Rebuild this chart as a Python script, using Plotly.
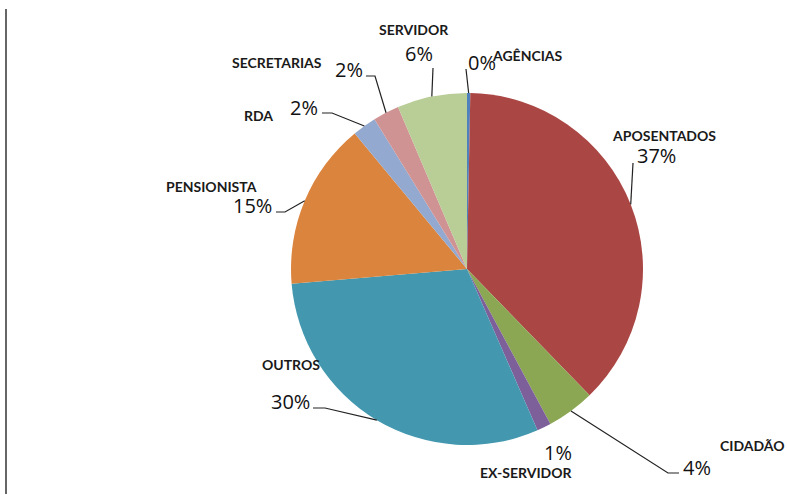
import math
import plotly.graph_objects as go

# ---- data ----
categories = ["AGÊNCIAS", "APOSENTADOS", "CIDADÃO", "EX-SERVIDOR", "OUTROS",
              "PENSIONISTA", "RDA", "SECRETARIAS", "SERVIDOR"]
values = [0.3, 37.4, 4.4, 1.3, 30.2, 15.3, 2.2, 2.4, 6.4]
colors = ["#4F81BD", "#AA4644", "#8BA753", "#7D5F9A", "#4398AF",
          "#DB843D", "#93A9CF", "#D09393", "#B9CD96"]

W, H = 787, 495
CX, CY, R = 467, 269, 176    # pie centre/radius in window pixels

def px(x):
    return x / W

def py(y):
    return 1 - y / H

total = sum(values)
pcts = [v / total * 100 for v in values]
pct_text = [f"{round(p)}%" for p in pcts]

# edge point at each slice's middle angle (clockwise from 12 o'clock)
edge = []
cum = 0.0
for v in values:
    mid = (cum + v / 2) / total * 360
    cum += v
    a = math.radians(mid)
    edge.append((CX + R * math.sin(a), CY - R * math.cos(a)))

# label placement (window pixels): name, percent, leader start / elbow
place = {
    "AGÊNCIAS":    dict(name=(527, 55),  pct=(482, 62),  lead=[(466, 69)]),
    "APOSENTADOS": dict(name=(664, 135), pct=(656, 155), lead=[(633, 163)]),
    "CIDADÃO":     dict(name=(752, 445), pct=(697, 467), lead=[(679, 473), (668, 473)]),
    "EX-SERVIDOR": dict(name=(526, 472), pct=(558, 452), lead=None),
    "OUTROS":      dict(name=(291, 364), pct=(290, 401), lead=[(313, 408), (325, 408)]),
    "PENSIONISTA": dict(name=(212, 186), pct=(252, 205), lead=[(276, 212), (285, 212)]),
    "RDA":         dict(name=(258, 116), pct=(304, 107), lead=[(322, 113), (332, 113)]),
    "SECRETARIAS": dict(name=(277, 63),  pct=(349, 69),  lead=[(366, 76), (375, 76)]),
    "SERVIDOR":    dict(name=(414, 29),  pct=(419, 53),  lead=[(433, 68)]),
}

fig = go.Figure(go.Pie(
    labels=categories, values=values, sort=False, direction="clockwise",
    rotation=0, textinfo="none", hoverinfo="label+percent",
    marker=dict(colors=colors, line=dict(width=0)),
    domain=dict(x=[px(CX - R), px(CX + R)], y=[py(CY + R), py(CY - R)]),
    showlegend=False,
))

annotations = []
shapes = []
NAME_FONT = "Lato, Open Sans, DejaVu Sans, sans-serif"
PCT_FONT = "Open Sans, Lato, DejaVu Sans, sans-serif"
for i, cat in enumerate(categories):
    p = place[cat]
    annotations.append(dict(x=px(p["name"][0]), y=py(p["name"][1]), xref="paper", yref="paper",
                            text=f"<b>{cat}</b>", showarrow=False, xanchor="center", yanchor="middle",
                            font=dict(family=NAME_FONT, size=14, color="#1a1a1a")))
    annotations.append(dict(x=px(p["pct"][0]), y=py(p["pct"][1]), xref="paper", yref="paper",
                            text=pct_text[i], showarrow=False, xanchor="center", yanchor="middle",
                            font=dict(family=PCT_FONT, size=20, color="#111111")))
    if p["lead"]:
        pts = p["lead"] + [edge[i]]
        path = "M " + " L ".join(f"{px(x):.5f},{py(y):.5f}" for x, y in pts)
        shapes.append(dict(type="path", path=path, xref="paper", yref="paper",
                           line=dict(color="#222222", width=1.2)))

# left border line
shapes.append(dict(type="line", x0=px(6), x1=px(6), y0=py(9), y1=py(494), xref="paper", yref="paper",
                   line=dict(color="#333333", width=1.5)))

fig.update_layout(width=W, height=H, margin=dict(l=0, r=0, t=0, b=0),
                  paper_bgcolor="white", plot_bgcolor="white",
                  annotations=annotations, shapes=shapes)
fig.write_html("out.html", config={"displayModeBar": False},
               post_script="document.body.style.margin='0';document.body.style.overflow='hidden';")
